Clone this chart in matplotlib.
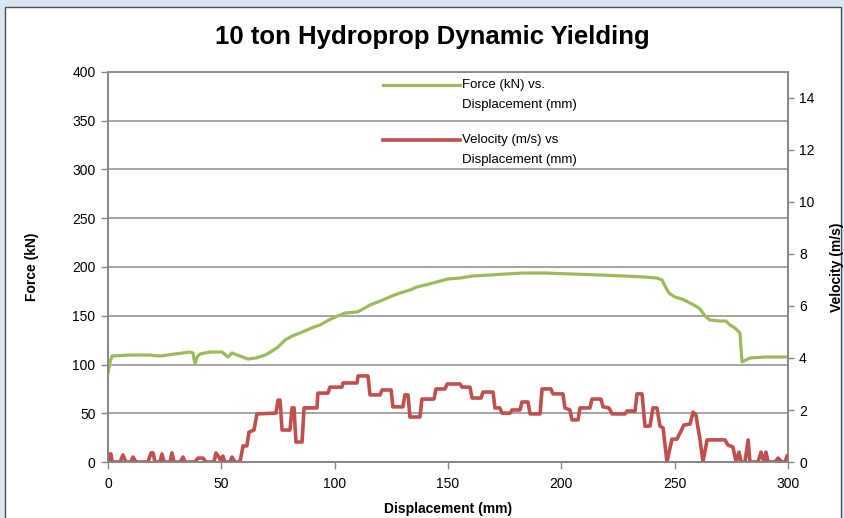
import matplotlib
matplotlib.use("Agg")
import matplotlib.pyplot as plt
from matplotlib.lines import Line2D
from matplotlib.patches import Rectangle

plt.rcParams['font.family'] = ['Liberation Sans', 'DejaVu Sans']

# ── Données ─────────────────────────────────────────────────────────────────
force_disp = [0, 0.9, 1.8, 9.7, 18.5, 22.9, 29.6, 36.2, 37.5, 38.4, 39.3, 40.6,
              45.0, 50.3, 52.9, 54.7, 58.2, 61.8, 65.3, 69.3, 72.4, 75.0, 78.1,
              81.2, 84.7, 87.8, 90.9, 93.5, 96.6, 99.3, 102.4, 104.6, 109.9,
              112.5, 115.6, 121.3, 125.3, 128.8, 133.2, 136.3, 139.9, 143.4,
              146.5, 150.0, 155.3, 161.0, 168.5, 175.1, 183.1, 192.8, 205.1,
              217.1, 227.2, 236.9, 242.2, 244.4, 246.2, 247.5, 250.1, 253.2,
              255.9, 258.5, 261.2, 263.4, 265.6, 270.0, 272.6, 274.4, 276.6,
              278.8, 279.7, 283.2, 289.9, 299.6]
force_kn = [91.3, 102.6, 108.7, 109.7, 109.7, 108.7, 110.8, 112.8, 111.8, 100.5,
            107.7, 110.8, 112.8, 112.8, 107.7, 111.8, 108.7, 105.6, 106.7, 109.7,
            113.8, 117.9, 125.1, 129.2, 132.3, 135.4, 138.5, 140.5, 144.6, 147.7,
            150.8, 152.8, 153.8, 156.9, 161.0, 166.2, 170.3, 173.3, 176.4, 179.5,
            181.5, 183.6, 185.6, 187.7, 188.7, 190.8, 191.8, 192.8, 193.8, 193.8,
            192.8, 191.8, 190.8, 189.7, 188.7, 186.7, 178.5, 173.3, 169.2, 167.2,
            164.1, 161.0, 156.9, 149.7, 145.6, 144.6, 144.6, 140.5, 137.4, 132.3,
            102.6, 106.7, 107.7, 107.7]

vel_disp = [0, 0.4, 1.3, 1.8, 5.3, 6.6, 7.9, 10.1, 11.0, 12.4, 17.6, 19.0, 19.9,
            20.7, 22.9, 23.8, 24.7, 27.4, 28.2, 29.1, 31.8, 33.1, 34.0, 38.4,
            39.7, 41.9, 43.2, 46.8, 47.6, 49.0, 49.9, 50.7, 51.6, 53.8, 54.7,
            56.0, 58.2, 59.6, 61.3, 62.2, 64.4, 65.7, 74.1, 75.0, 75.9, 76.8,
            80.3, 81.2, 82.1, 82.9, 85.6, 86.5, 92.2, 92.6, 97.1, 97.9, 103.2,
            103.7, 109.9, 110.3, 114.7, 115.6, 120.0, 120.9, 124.9, 125.7, 130.1,
            131.0, 132.4, 133.2, 137.6, 138.5, 143.8, 144.7, 148.7, 149.6, 155.3,
            156.2, 159.7, 160.6, 164.6, 165.4, 169.9, 170.7, 172.9, 173.8, 177.4,
            178.2, 181.8, 182.6, 185.3, 186.2, 190.6, 191.5, 195.4, 196.3, 200.7,
            201.6, 203.8, 204.7, 207.4, 208.2, 212.6, 213.5, 217.5, 218.4, 221.0,
            222.4, 228.1, 229.0, 232.5, 233.4, 235.6, 236.9, 239.1, 240.4, 242.2,
            243.5, 244.9, 246.6, 248.8, 251.0, 252.4, 254.1, 256.8, 258.1, 259.4,
            260.3, 261.2, 262.5, 264.3, 272.2, 273.5, 275.7, 277.1, 278.4, 279.3,
            281.0, 282.4, 283.2, 286.8, 288.1, 289.4, 290.3, 291.2, 294.3, 295.6,
            297.4, 298.7, 299.6]
vel_ms = [0, 0.31, 0.31, 0, 0, 0.27, 0, 0, 0.19, 0, 0, 0.35, 0.35,
          0, 0, 0.31, 0, 0, 0.35, 0, 0, 0.19, 0, 0,
          0.15, 0.15, 0, 0, 0.35, 0.19, 0, 0.23, 0, 0, 0.19,
          0, 0, 0.62, 0.62, 1.15, 1.23, 1.85, 1.88, 2.38, 2.38, 1.23,
          1.23, 2.08, 2.08, 0.77, 0.77, 2.08, 2.08, 2.65, 2.65, 2.88, 2.88,
          3.04, 3.04, 3.31, 3.31, 2.58, 2.58, 2.77, 2.77, 2.12, 2.12,
          2.58, 2.58, 1.73, 1.73, 2.42, 2.42, 2.81, 2.81, 3.0, 3.0,
          2.88, 2.88, 2.46, 2.46, 2.69, 2.69, 2.08, 2.08, 1.88, 1.88,
          2.0, 2.0, 2.31, 2.31, 1.85, 1.85, 2.81, 2.81, 2.62, 2.62,
          2.08, 2.0, 1.62, 1.62, 2.08, 2.08, 2.42, 2.42, 2.12, 2.08,
          1.85, 1.85, 1.96, 1.96, 2.62, 2.62, 1.38, 1.38, 2.08, 2.08,
          1.38, 1.31, 0, 0.88, 0.88, 1.12, 1.42, 1.46, 1.92, 1.81,
          1.31, 0.85, 0, 0.85, 0.85, 0.65, 0.58, 0, 0.38, 0,
          0, 0.85, 0, 0, 0.38, 0, 0.38, 0, 0, 0.15,
          0, 0, 0.23]

x_ticks = [0, 50, 100, 150, 200, 250, 300]
force_ticks = [0, 50, 100, 150, 200, 250, 300, 350, 400]
vel_ticks = [0, 2, 4, 6, 8, 10, 12, 14]

GREEN = '#9BBB59'
RED = '#C0504D'
GRID = '#8C8C8C'
AXIS = '#868686'

fig = plt.figure(figsize=(8.44, 5.18), dpi=100)
fig.patch.set_facecolor('#DCE6F2')
fig.patches.append(Rectangle((5 / 844, -0.05), 836 / 844, 1.05 - 7 / 518,
                             transform=fig.transFigure, facecolor='white',
                             edgecolor='#4D4D4D', lw=1.0, zorder=-10))

ax = fig.add_axes([108 / 844, 1 - 462 / 518, 680 / 844, 390 / 518])
ax2 = ax.twinx()
ax.set_facecolor('none')
ax2.set_facecolor('none')

# ── Force (axe gauche) ──────────────────────────────────────────────────────
ax.plot(force_disp, force_kn, '-', color=GREEN, lw=2.3, solid_joinstyle='round')
ax.set_xlim(0, 300)
ax.set_ylim(0, 400)
ax.set_xticks(x_ticks)
ax.set_yticks(force_ticks)
ax.yaxis.grid(True, color=GRID, lw=1.1)
ax.set_axisbelow(True)

# ── Vitesse (axe droit) ─────────────────────────────────────────────────────
ax2.plot(vel_disp, vel_ms, '-', color=RED, lw=2.6, solid_joinstyle='round')
ax2.set_ylim(0, 15)
ax2.set_yticks(vel_ticks)

for a in (ax, ax2):
    for side in ('left', 'right', 'bottom'):
        a.spines[side].set_color(AXIS)
        a.spines[side].set_linewidth(1.2)
    a.spines['top'].set_color(GRID)
    a.spines['top'].set_linewidth(1.1)
    a.tick_params(colors='black', labelsize=10, length=5, width=1.0)
    a.tick_params(axis='both', color=AXIS)
ax.tick_params(axis='x', pad=6)
ax.tick_params(axis='y', pad=4)
ax2.tick_params(axis='y', pad=4, length=4)

ax.set_xlabel('Displacement (mm)', fontsize=10, fontweight='bold', labelpad=8)
ax.set_ylabel('Force (kN)', fontsize=10, fontweight='bold', labelpad=24)
ax2.set_ylabel('Velocity (m/s)', fontsize=10, fontweight='bold', labelpad=11)

fig.text(432 / 844, 1 - 37 / 518, '10 ton Hydroprop Dynamic Yielding',
         ha='center', va='center', fontsize=18.5, fontweight='bold')

# ── Légende (poignée alignée sur la 1re ligne, comme Excel) ────────────────
legend_items = [(GREEN, 2.3, 'Force (kN) vs.', 'Displacement (mm)', 85),
                (RED, 2.6, 'Velocity (m/s) vs', 'Displacement (mm)', 140)]
for color, lw, line1, line2, ypix in legend_items:
    yf = 1 - ypix / 518
    fig.add_artist(Line2D([383 / 844, 460 / 844], [yf, yf], color=color, lw=lw))
    fig.text(462 / 844, yf, line1, ha='left', va='center', fontsize=9.5)
    fig.text(462 / 844, yf - 20 / 518, line2, ha='left', va='center', fontsize=9.5)

fig.savefig('out.png', dpi=100, facecolor=fig.get_facecolor())
